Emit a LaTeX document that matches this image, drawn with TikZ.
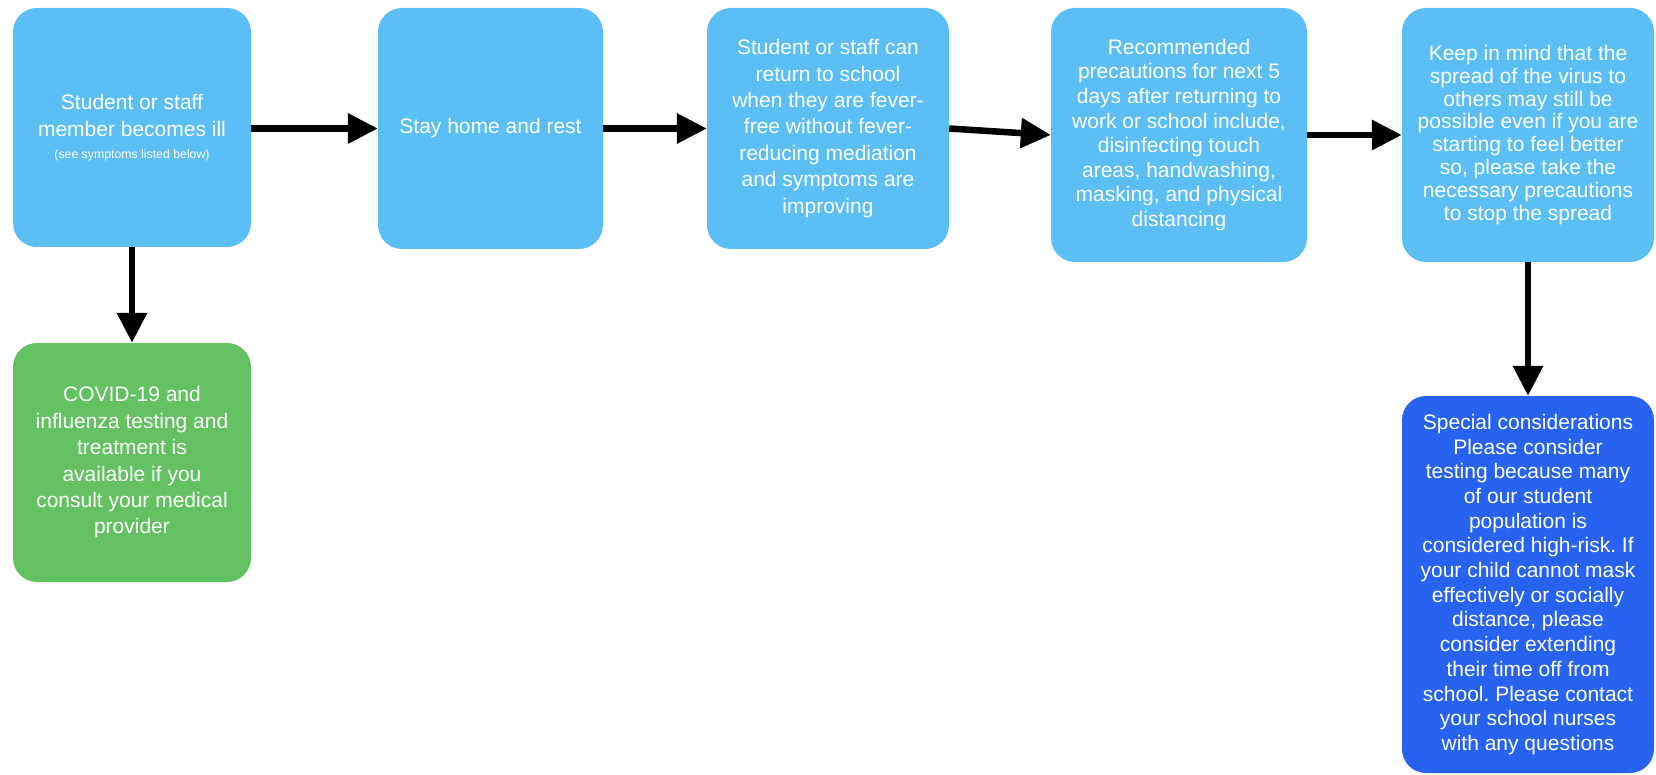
\documentclass[tikz,border=0pt]{standalone}
\usepackage{fontspec}
\setmainfont{Liberation Sans}
\usetikzlibrary{arrows.meta}
\definecolor{lblue}{RGB}{91,190,245}
\definecolor{lgreen}{RGB}{99,193,98}
\definecolor{dblue}{RGB}{40,98,240}
\frenchspacing
\begin{document}
\begin{tikzpicture}[x=1pt,y=-1pt,
  box/.style={rounded corners=24pt, inner sep=0pt, align=center, text=white,
    font=\fontsize{21}{26.4}\selectfont},
  arr/.style={line width=6.5pt, -{Triangle[length=30pt,width=29pt]}}]
\useasboundingbox (0,0) rectangle (1656,775);
\node[box, fill=lblue, minimum width=238pt, minimum height=239pt,
  font=\fontsize{21}{27.5}\selectfont] (b1) at (132,127.5)
  {Student or staff\\member becomes ill\\[-6pt]{\fontsize{12.3}{15}\selectfont (see symptoms listed below)}};
\node[box, fill=lblue, minimum width=225pt, minimum height=241pt] (b2) at (490.5,128.5)
  {Stay home and rest};
\node[box, fill=lblue, minimum width=242pt, minimum height=241pt] (b3) at (828,128.5)
  {Student or staff can\\return to school\\when they are fever-\\free without fever-\\reducing mediation\\and symptoms are\\improving};
\node[box, fill=lblue, minimum width=256pt, minimum height=254pt,
  font=\fontsize{21}{24.6}\selectfont] (b4) at (1179,135)
  {Recommended\\precautions for next 5\\days after returning to\\work or school include,\\disinfecting touch\\areas, handwashing,\\masking, and physical\\distancing};
\node[box, fill=lblue, minimum width=252pt, minimum height=254pt,
  font=\fontsize{21}{22.9}\selectfont] (b5) at (1528,135)
  {Keep in mind that the\\spread of the virus to\\others may still be\\possible even if you are\\starting to feel better\\so, please take the\\necessary precautions\\to stop the spread};
\node[box, fill=lgreen, minimum width=238pt, minimum height=239pt] (g) at (132,462.5)
  {COVID-19 and\\influenza testing and\\treatment is\\available if you\\consult your medical\\provider};
\node[box, fill=dblue, minimum width=252pt, minimum height=377pt,
  font=\fontsize{21}{24.7}\selectfont] (d) at (1528,584.5)
  {Special considerations\\Please consider\\testing because many\\of our student\\population is\\considered high-risk. If\\your child cannot mask\\effectively or socially\\distance, please\\consider extending\\their time off from\\school. Please contact\\your school nurses\\with any questions};
\draw[arr] (b1.east |- b2.west) -- (b2.west);
\draw[arr] (b2.east) -- (b3.west);
\draw[arr] (b3.east) -- (b4.west);
\draw[arr] (b4.east) -- (b5.west);
\draw[arr] (b1.south) -- (g.north);
\draw[arr] (b5.south) -- (d.north);
\end{tikzpicture}
\end{document}
